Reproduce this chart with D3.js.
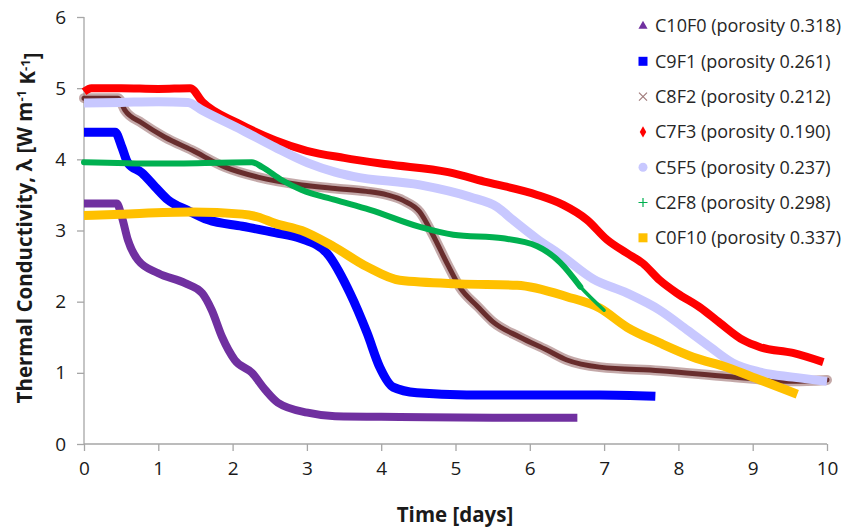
<!DOCTYPE html>
<html>
<head>
<meta charset="utf-8">
<script src="https://cdn.jsdelivr.net/npm/d3@7"></script>
<style>
html,body{margin:0;padding:0;background:#fff;}
svg{display:block;}
</style>
</head>
<body>
<svg id="chart" width="848" height="530"></svg>
<script>
// ---- data (days, W m-1 K-1) ----
const xTicks = [0,1,2,3,4,5,6,7,8,9,10];
const yTicks = [0,1,2,3,4,5,6];
const seriesNames = [
  "C10F0 (porosity 0.318)",
  "C9F1 (porosity 0.261)",
  "C8F2 (porosity 0.212)",
  "C7F3 (porosity 0.190)",
  "C5F5 (porosity 0.237)",
  "C2F8 (porosity 0.298)",
  "C0F10 (porosity 0.337)"
];
const C10F0 = [[0,3.38],[0.44,3.38],[0.51,3.19],[0.59,2.87],[0.73,2.58],[1.0,2.40],[1.36,2.26],[1.59,2.12],[1.72,1.88],[1.86,1.50],[2.03,1.18],[2.26,1.00],[2.44,0.76],[2.61,0.58],[3.01,0.44],[3.38,0.39],[4.25,0.38],[5.5,0.37],[6.64,0.37]];
const C9F1 = [[0,4.38],[0.42,4.38],[0.51,4.17],[0.59,3.95],[0.78,3.81],[0.96,3.61],[1.13,3.43],[1.4,3.28],[1.67,3.15],[2.13,3.06],[2.57,2.97],[2.91,2.89],[3.27,2.68],[3.58,2.12],[3.81,1.56],[3.98,1.08],[4.16,0.80],[4.48,0.72],[5.15,0.69],[6.94,0.69],[7.69,0.67]];
const C8F2 = [[0,4.86],[0.46,4.86],[0.55,4.69],[0.78,4.51],[1.09,4.31],[1.45,4.13],[1.9,3.89],[2.34,3.75],[2.93,3.64],[3.38,3.59],[3.8,3.55],[4.08,3.5],[4.3,3.42],[4.52,3.26],[4.7,2.93],[4.89,2.53],[5.06,2.2],[5.3,1.93],[5.5,1.72],[5.87,1.50],[6.23,1.32],[6.5,1.18],[6.94,1.08],[7.75,1.03],[8.65,0.95],[9.54,0.88],[10,0.9]];
const C7F3 = [[0,4.95],[0.1,5.0],[0.5,5.0],[1.0,4.99],[1.43,5.0],[1.6,4.8],[2.07,4.51],[2.57,4.27],[3.0,4.12],[3.5,4.02],[4.08,3.93],[4.9,3.82],[5.42,3.68],[6.1,3.5],[6.45,3.36],[6.77,3.15],[7.04,2.87],[7.31,2.68],[7.52,2.54],[7.75,2.3],[7.98,2.12],[8.29,1.92],[8.56,1.70],[8.87,1.46],[9.1,1.36],[9.54,1.28],[9.95,1.15]];
const C5F5 = [[0,4.79],[0.5,4.80],[1.0,4.81],[1.4,4.80],[1.59,4.69],[2.13,4.41],[2.57,4.17],[3.01,3.95],[3.38,3.82],[3.62,3.76],[4.52,3.64],[5.2,3.47],[5.56,3.33],[5.77,3.15],[6.1,2.88],[6.41,2.66],[6.85,2.32],[7.31,2.12],[7.75,1.88],[8.12,1.60],[8.43,1.36],[8.73,1.14],[9.1,1.01],[9.54,0.94],[10.0,0.88]];
const C2F8 = [[0,3.96],[1,3.94],[2.26,3.96],[2.4,3.89],[2.66,3.71],[2.93,3.57],[3.38,3.43],[3.85,3.29],[4.52,3.05],[4.97,2.94],[5.64,2.89],[6.1,2.78],[6.41,2.55],[6.68,2.21],[7.0,1.88]];
const C0F10 = [[0,3.21],[0.5,3.23],[1.45,3.26],[2.13,3.23],[2.34,3.19],[2.57,3.10],[2.93,3.00],[3.35,2.78],[3.81,2.49],[4.25,2.30],[5.06,2.25],[5.83,2.23],[6.5,2.07],[6.94,1.91],[7.31,1.64],[7.75,1.42],[8.2,1.22],[8.65,1.08],[9.1,0.90],[9.6,0.70]];

const seriesData = [C10F0, C9F1, C8F2, C7F3, C5F5, C2F8, C0F10];
const colors = ["#7030a0","#0000ff","#5e1f1f","#ff0000","#c8c8ff","#00b050","#ffc000"];
const widths = [8,9,8,8,9,6,9];
const markers = ["triangle","square","cross","diamond","circle","plus","square"];
const drawOrder = [0,1,2,3,4,6,5];

// ---- layout ----
const svg = d3.select("#chart");
const x = d3.scaleLinear().domain([0,10]).range([84,827]);
const y = d3.scaleLinear().domain([0,6]).range([444,17]);
const axisColor = "#a6a6a6";
const fontTick = "'Open Sans', 'Noto Sans', sans-serif";

// axes
const gx = svg.append("g").attr("transform",`translate(0,${y(0)})`)
  .call(d3.axisBottom(x).tickValues(xTicks).tickSize(7).tickPadding(11).tickFormat(d3.format("d")));
const gy = svg.append("g").attr("transform",`translate(${x(0)},0)`)
  .call(d3.axisLeft(y).tickValues(yTicks).tickSize(7).tickPadding(11).tickFormat(d3.format("d")));
[gx,gy].forEach(g=>{
  g.select(".domain").attr("stroke",axisColor).attr("stroke-width",1.3);
  g.selectAll(".tick line").attr("stroke",axisColor).attr("stroke-width",1.3);
  g.selectAll(".tick text").attr("fill","#1a1a1a").style("font-family",fontTick).style("font-size","19px");
});
gy.select(".domain").attr("d",`M0,${y(6)}V${y(0)}`);
gx.select(".domain").attr("d",`M0,0H${x(10)-x(0)}`).attr("transform",`translate(${x(0)},0)`);

// lines
const line = d3.line().x(d=>x(d[0])).y(d=>y(d[1])).curve(d3.curveMonotoneX);
const plot = svg.append("g");
drawOrder.forEach(i=>{
  const data = seriesData[i];
  if (i===2) {
    plot.append("path").datum(data).attr("d",line).attr("fill","none")
      .attr("stroke","#9c7070").attr("stroke-width",widths[i]+2).attr("stroke-opacity",0.6)
      .attr("stroke-linejoin","round").attr("stroke-linecap","round");
    plot.append("path").datum(data).attr("d",line).attr("fill","none")
      .attr("stroke",colors[i]).attr("stroke-width",widths[i]-3).attr("stroke-opacity",0.9)
      .attr("stroke-linejoin","round").attr("stroke-linecap","round");
  } else if (i===5) {
    const cut = data.findIndex(d=>d[0]>=6.6);
    plot.append("path").datum(data.slice(0,cut+1)).attr("d",line).attr("fill","none")
      .attr("stroke",colors[i]).attr("stroke-width",widths[i])
      .attr("stroke-linejoin","round").attr("stroke-linecap","round");
    plot.append("path").datum(data.slice(cut-1)).attr("d",line).attr("fill","none")
      .attr("stroke",colors[i]).attr("stroke-width",3.5)
      .attr("stroke-linejoin","round").attr("stroke-linecap","round");
  } else {
    plot.append("path").datum(data).attr("d",line).attr("fill","none")
      .attr("stroke",colors[i]).attr("stroke-width",widths[i])
      .attr("stroke-linejoin","round").attr("stroke-linecap","butt");
  }
});

// legend
const legend = svg.append("g");
const lx = 643, ly0 = 26, ldy = 35.3;
seriesNames.forEach((name,i)=>{
  const cy = ly0 + i*ldy;
  const g = legend.append("g").attr("transform",`translate(${lx},${cy})`);
  const m = markers[i];
  if (m==="triangle") g.append("path").attr("d",d3.symbol(d3.symbolTriangle,36)()).attr("fill",colors[i]);
  else if (m==="square") g.append("rect").attr("x",-4.5).attr("y",-4.5).attr("width",9).attr("height",9).attr("fill",colors[i]);
  else if (m==="diamond") g.append("path").attr("d",d3.symbol(d3.symbolDiamond,36)()).attr("fill",colors[i]);
  else if (m==="circle") g.append("circle").attr("r",4.5).attr("fill",colors[i]);
  else if (m==="cross") g.append("path").attr("d","M-4,-4L4,4M-4,4L4,-4").attr("stroke","#a07b7b").attr("stroke-width",1.2);
  else if (m==="plus") g.append("path").attr("d","M-4.5,0H4.5M0,-4.5V4.5").attr("stroke",colors[i]).attr("stroke-width",1.2);
  legend.append("text").attr("x",lx+12).attr("y",cy).attr("dy","0.36em")
    .attr("fill","#262626").style("font-family",fontTick).style("font-size","18px").text(name);
});

// axis titles
svg.append("text").attr("x",455).attr("y",522).attr("text-anchor","middle")
  .attr("fill","#1a1a1a").style("font-family",fontTick).style("font-size","20.5px").style("font-weight","bold")
  .text("Time [days]");
const yt = svg.append("text").attr("transform","translate(32,228) rotate(-90)").attr("text-anchor","middle")
  .attr("fill","#1a1a1a").style("font-family",fontTick).style("font-size","20.5px").style("font-weight","bold");
yt.append("tspan").text("Thermal Conductivity, λ [W m");
yt.append("tspan").attr("dy","-0.45em").style("font-size","13px").text("-1");
yt.append("tspan").attr("dy","0.45em").text(" K");
yt.append("tspan").attr("dy","-0.45em").style("font-size","13px").text("-1");
yt.append("tspan").attr("dy","0.45em").text("]");
</script>
</body>
</html>
